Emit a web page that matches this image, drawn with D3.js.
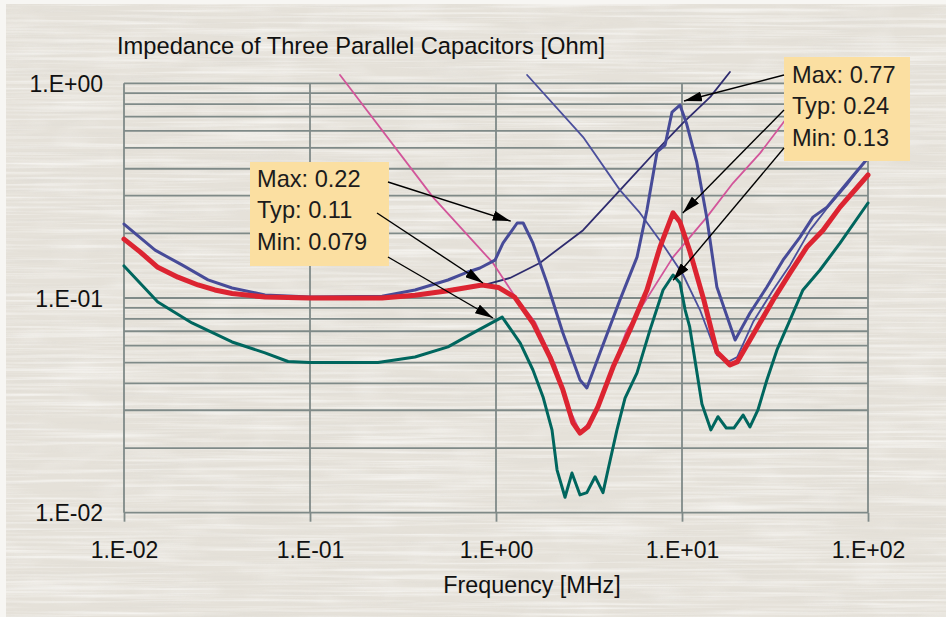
<!DOCTYPE html>
<html>
<head>
<meta charset="utf-8">
<script src="https://cdn.jsdelivr.net/npm/d3@7"></script>
<style>
html,body{margin:0;padding:0;background:#fff;}
svg{display:block;}
text{font-family:"Liberation Sans",Arial,Helvetica,sans-serif;}
</style>
</head>
<body>
<svg id="chart" width="946" height="617"></svg>
<script>
// ---------- data (frequency in MHz, impedance in Ohm) ----------
const chartTitle = "Impedance of Three Parallel Capacitors [Ohm]";
const xTitle = "Frequency [MHz]";
const xTickValues = [0.01, 0.1, 1, 10, 100];
const yTickValues = [0.01, 0.1, 1];

const typFreq = [0.01,0.0122,0.0152,0.0195,0.025,0.0308,0.0381,0.0573,0.1,0.164,0.244,0.367,0.552,0.841,1.03,1.26,1.58,1.95,2.29,2.59,2.83,3.12,3.53,4.26,5.25,6.48,7.62,8.95,9.75,11.0,13.1,15.4,18.1,19.8,23.2,30.9,38.1,47.0,57.3,70.7,100];
const typZ    = [0.188,0.164,0.139,0.125,0.115,0.109,0.105,0.101,0.100,0.100,0.100,0.103,0.108,0.115,0.112,0.101,0.0765,0.0531,0.0373,0.0262,0.0235,0.0251,0.0311,0.0477,0.071,0.109,0.173,0.249,0.226,0.166,0.098,0.0561,0.0488,0.0504,0.0637,0.098,0.131,0.173,0.207,0.265,0.374];

const maxFreq = [0.01,0.0147,0.0205,0.0283,0.0381,0.0573,0.1,0.244,0.367,0.552,0.681,0.82,0.988,1.09,1.30,1.40,1.58,1.88,2.29,2.83,3.08,3.62,4.64,5.73,6.48,7.34,8.11,8.84,9.75,10.6,12.0,13.6,15.4,19.3,23.2,28.6,34.9,43.1,50.6,60.2,77.1,100];
const maxZ    = [0.221,0.167,0.1426,0.1214,0.1113,0.1033,0.1011,0.102,0.109,0.1213,0.1307,0.138,0.150,0.180,0.2235,0.2235,0.180,0.1175,0.0687,0.0415,0.0381,0.0555,0.098,0.155,0.257,0.479,0.516,0.735,0.792,0.646,0.430,0.236,0.1125,0.0637,0.0851,0.1125,0.150,0.192,0.238,0.265,0.343,0.449];

const minFreq = [0.01,0.0152,0.0232,0.0381,0.0573,0.0762,0.1,0.232,0.367,0.552,0.771,1.08,1.35,1.58,1.79,2.00,2.13,2.35,2.56,2.83,3.08,3.41,3.76,4.00,4.47,4.94,5.73,6.73,7.91,8.95,9.75,10.4,11.0,12.8,14.3,15.6,17.3,19.0,21.3,23.2,25.6,28.6,32.4,38.1,44.7,55.2,70.7,100];
const minZ    = [0.141,0.0958,0.0765,0.0624,0.0555,0.0506,0.0501,0.0501,0.0531,0.0592,0.0695,0.0815,0.0617,0.0462,0.0346,0.0243,0.0158,0.0118,0.0153,0.0121,0.0124,0.0147,0.0124,0.0158,0.0243,0.0342,0.0448,0.071,0.109,0.128,0.1175,0.0879,0.0733,0.0321,0.0243,0.0280,0.0248,0.0248,0.0285,0.0251,0.0301,0.0415,0.0573,0.0791,0.109,0.135,0.180,0.277];

// single-capacitor curves (thin lines)
const smallCapFreq = [0.145,0.458,0.963,1.23,1.62,2.08,2.50,2.83,3.28,4.0,5.06,8.95,13.6,18.8,26.3,34.9,45.8];
const smallCapZ    = [1.093,0.295,0.1456,0.1055,0.0773,0.0488,0.030,0.0238,0.027,0.0415,0.071,0.155,0.238,0.343,0.473,0.653,0.882];
const bigCapFreq   = [0.238,0.367,0.566,0.82,1.19,1.72,2.94,4.82,7.34,10.1,14.2,18.1];
const bigCapZ      = [0.1,0.102,0.110,0.1137,0.124,0.1456,0.207,0.329,0.489,0.653,0.864,1.129];
const midCapFreq   = [1.47,2.94,4.64,5.94,7.91,10.1,12.5,15.4,17.7,19.8,24.1,30.9,38.1,48.8,60.2,77.1,92.9];
const midCapZ      = [1.093,0.562,0.318,0.249,0.177,0.129,0.0879,0.0543,0.0504,0.0531,0.0773,0.109,0.1426,0.207,0.262,0.336,0.416];

// annotations
const noteLeftText  = ["Max: 0.22", "Typ: 0.11", "Min: 0.079"];
const noteLeftTargets  = [[1.20, 0.228], [0.851, 0.1175], [0.963, 0.0807]];
const noteRightText = ["Max: 0.77", "Typ: 0.24", "Min: 0.13"];
const noteRightTargets = [[10.25, 0.827], [10.1, 0.249], [8.95, 0.121]];

// ---------- drawing ----------
const W = 946, H = 617;
const svg = d3.select("#chart");
const defs = svg.append("defs");

// paper texture
const f1 = defs.append("filter").attr("id","streakLight").attr("x",0).attr("y",0).attr("width","100%").attr("height","100%");
f1.append("feTurbulence").attr("type","fractalNoise").attr("baseFrequency","0.006 0.32").attr("numOctaves",3).attr("seed",4);
f1.append("feColorMatrix").attr("type","matrix")
  .attr("values","0 0 0 0 1  0 0 0 0 1  0 0 0 0 0.99  1.8 0 0 0 -0.78");
const f2 = defs.append("filter").attr("id","streakDark").attr("x",0).attr("y",0).attr("width","100%").attr("height","100%");
f2.append("feTurbulence").attr("type","fractalNoise").attr("baseFrequency","0.01 0.28").attr("numOctaves",3).attr("seed",11);
f2.append("feColorMatrix").attr("type","matrix")
  .attr("values","0 0 0 0 0.72  0 0 0 0 0.70  0 0 0 0 0.66  0 1.8 0 0 -0.85");
const f3 = defs.append("filter").attr("id","blotch").attr("x",0).attr("y",0).attr("width","100%").attr("height","100%");
f3.append("feTurbulence").attr("type","fractalNoise").attr("baseFrequency","0.02 0.05").attr("numOctaves",2).attr("seed",23);
f3.append("feColorMatrix").attr("type","matrix")
  .attr("values","0 0 0 0 1  0 0 0 0 1  0 0 0 0 1  1.6 0 0 0 -0.8");

svg.append("rect").attr("x",0).attr("y",0).attr("width",W).attr("height",H).attr("fill","#f7f6f3");
svg.append("rect").attr("x",6).attr("y",4).attr("width",W-6).attr("height",H-4).attr("fill","#e5e1d9");
svg.append("rect").attr("x",6).attr("y",4).attr("width",W-6).attr("height",H-4).attr("filter","url(#streakDark)").attr("opacity",0.55);
svg.append("rect").attr("x",6).attr("y",4).attr("width",W-6).attr("height",H-4).attr("filter","url(#blotch)").attr("opacity",0.35);
svg.append("rect").attr("x",6).attr("y",4).attr("width",W-6).attr("height",H-4).attr("filter","url(#streakLight)").attr("opacity",0.75);

const x = d3.scaleLog().domain([0.01, 100]).range([124, 868]);
const y = d3.scaleLog().domain([0.01, 1]).range([512.7, 83.3]);

const gridColor = "#7f8a88";
const fmt = d => {
  const e = Math.round(Math.log10(d));
  return "1.E" + (e < 0 ? "-" : "+") + String(Math.abs(e)).padStart(2, "0");
};

// horizontal grid (every minor log tick)
svg.append("g").selectAll("line").data(y.ticks()).join("line")
  .attr("x1", x.range()[0]).attr("x2", x.range()[1])
  .attr("y1", d => y(d)).attr("y2", d => y(d))
  .attr("stroke", gridColor).attr("stroke-width", 1.8);
// vertical grid at decades
svg.append("g").selectAll("line").data(xTickValues).join("line")
  .attr("x1", d => x(d)).attr("x2", d => x(d))
  .attr("y1", y.range()[1]).attr("y2", y.range()[0])
  .attr("stroke", gridColor).attr("stroke-width", 1.8);

// axes
const xAxis = svg.append("g").attr("transform", `translate(0,${y.range()[0]})`)
  .call(d3.axisBottom(x).tickValues(xTickValues).tickFormat(fmt).tickSize(9).tickPadding(20).tickSizeOuter(0));
xAxis.select(".domain").remove();
xAxis.selectAll(".tick line").attr("stroke", gridColor).attr("stroke-width", 1.8);
xAxis.selectAll(".tick text").attr("font-size", 23).attr("fill", "#111")
  .style("font-family", '"Liberation Sans",Arial,sans-serif');

const yAxis = svg.append("g").attr("transform", `translate(${x.range()[0]},0)`)
  .call(d3.axisLeft(y).tickValues(yTickValues).tickFormat(fmt).tickSize(0).tickPadding(21));
yAxis.select(".domain").remove();
yAxis.selectAll(".tick text").attr("font-size", 23).attr("fill", "#111").attr("dy", "0.36em")
  .style("font-family", '"Liberation Sans",Arial,sans-serif');

// titles
svg.append("text").attr("x", 117).attr("y", 54).attr("font-size", 23.7).attr("fill", "#111").text(chartTitle);
svg.append("text").attr("x", 532).attr("y", 593).attr("text-anchor", "middle").attr("font-size", 23.3).attr("fill", "#111").text(xTitle);

// lines
const line = d3.line().x(d => x(d[0])).y(d => y(d[1]));
const drawSeries = (fr, z, color, w) =>
  svg.append("path").datum(d3.zip(fr, z)).attr("d", line)
    .attr("fill", "none").attr("stroke", color).attr("stroke-width", w)
    .attr("stroke-linejoin", "round").attr("stroke-linecap", "round");

drawSeries(bigCapFreq, bigCapZ, "#2e2b6e", 1.8);
drawSeries(smallCapFreq, smallCapZ, "#d2559a", 1.8);
drawSeries(midCapFreq, midCapZ, "#4b4f9c", 1.8);
drawSeries(minFreq, minZ, "#00665e", 3);
drawSeries(maxFreq, maxZ, "#474b98", 3);
drawSeries(typFreq, typZ, "#dc2431", 5);

// arrow marker
defs.append("marker").attr("id", "ah").attr("markerUnits", "userSpaceOnUse")
  .attr("markerWidth", 18).attr("markerHeight", 10).attr("refX", 18).attr("refY", 5)
  .attr("orient", "auto")
  .append("path").attr("d", "M0,0L18,5L0,10Z").attr("fill", "#000");

function note(box, texts, targets, starts) {
  const g = svg.append("g");
  g.append("rect").attr("x", box.x).attr("y", box.y).attr("width", box.w).attr("height", box.h).attr("fill", "#fbdfa1");
  texts.forEach((t, i) => {
    g.append("text").attr("x", box.x + box.tx).attr("y", box.y + box.base[i])
      .attr("font-size", 23.6).attr("fill", "#1c1c1c").text(t);
  });
  targets.forEach((t, i) => {
    g.append("line").attr("x1", box.x + starts[i][0]).attr("y1", box.y + starts[i][1])
      .attr("x2", x(t[0])).attr("y2", y(t[1]))
      .attr("stroke", "#000").attr("stroke-width", 1.4).attr("marker-end", "url(#ah)");
  });
}
note({x: 250, y: 162, w: 139, h: 104, tx: 7, base: [25, 56, 88]}, noteLeftText, noteLeftTargets,
     [[138, 20], [127, 51], [138, 95]]);
note({x: 784, y: 57, w: 126, h: 104, tx: 8, base: [26, 57, 89]}, noteRightText, noteRightTargets,
     [[0, 18], [0, 53], [0, 91]]);
</script>
</body>
</html>
